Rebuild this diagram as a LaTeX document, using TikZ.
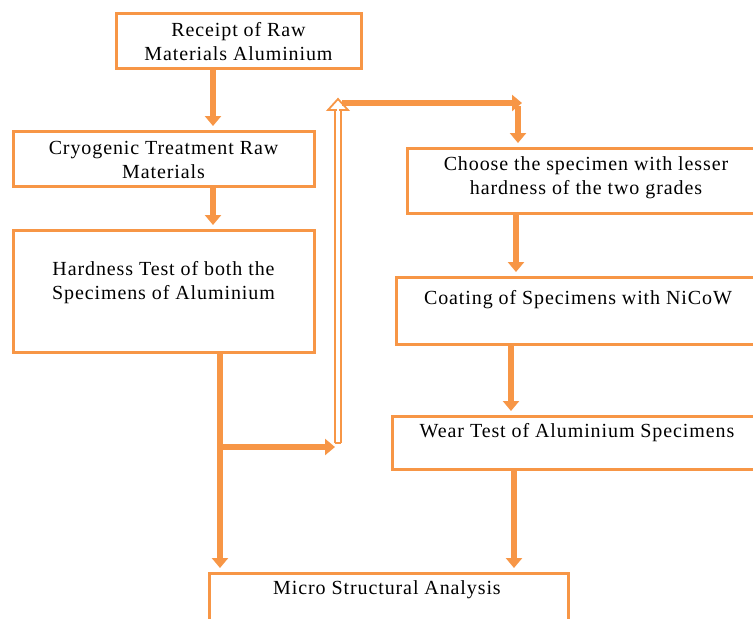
\documentclass[tikz,border=0pt]{standalone}
\usepackage{fontspec}
\setmainfont{Liberation Serif}[LetterSpace=4.5]
\usetikzlibrary{arrows.meta,calc}
\definecolor{org}{HTML}{F79646}
\begin{document}
\begin{tikzpicture}[x=1pt,y=-1pt,
  box/.style={draw=org,line width=3pt,fill=none},
  txt/.style={align=center,font=\fontsize{20}{24}\selectfont,inner sep=0pt},
  arr/.style={draw=org,line width=5.5pt,-{Triangle[width=16pt,length=10pt]},shorten >=5pt},
  dbl/.style={draw=org,line width=1.8pt}]
\useasboundingbox (0,0) rectangle (753,619);
\clip (0,0) rectangle (753,619);
% boxes
\draw[box] (116,13) rectangle (361,68);
\draw[box] (13,131) rectangle (314,186);
\draw[box] (13,230) rectangle (314,352);
\draw[box] (407,148) rectangle (765,213);
\draw[box] (396,277) rectangle (760,344);
\draw[box] (392,416) rectangle (762,469);
\draw[box] (209,573) rectangle (568,640);
% named anchors for the boxes
\coordinate (b1s) at (213,68);
\coordinate (b2n) at (213,131);
\coordinate (b2s) at (213,186);
\coordinate (b3n) at (213,230);
\coordinate (b3s) at (220,352);
\coordinate (b7nl) at (220,573);
\coordinate (br) at (220,447);
\coordinate (brt) at (335,447);
\coordinate (dbot) at (338,443);
\coordinate (dtop) at (338,99);
\coordinate (tl) at (342,103);
\coordinate (tr) at (522,103);
\coordinate (vt) at (518,106);
\coordinate (b4n) at (518,148);
\coordinate (b4s) at (516,213);
\coordinate (b5n) at (516,277);
\coordinate (b5s) at (511,344);
\coordinate (b6n) at (511,416);
\coordinate (b6s) at (514,469);
\coordinate (b7nr) at (514,573);
% texts
\node[txt] (t1) at (238.5,42) {Receipt of Raw\\Materials Aluminium};
\node[txt] (t2) at (163.5,160) {Cryogenic Treatment Raw\\Materials};
\node[txt] (t3) at (163.5,283) {Hardness Test of both the\\Specimens of Aluminium};
\node[txt] (t4) at (586,178) {Choose the specimen with lesser\\hardness of the two grades};
\node[txt] (t5) at (578,300) {Coating of Specimens with NiCoW};
\node[txt] (t6) at (577,433) {Wear Test of Aluminium Specimens};
\node[txt] (t7) at (387,590) {Micro Structural Analysis};
% connectors
\draw[arr] (b1s) -- (b2n);
\draw[arr] (b2s) -- (b3n);
\draw[arr] (b3s) -- (b7nl);
\draw[arr,shorten >=0pt] (br) -- (brt);
% double arrow upward
\draw[dbl] ($(dbot)+(-3,0)$) -- ($(dtop)+(-3,11)$);
\draw[dbl] ($(dbot)+(3,0)$) -- ($(dtop)+(3,11)$);
\draw[dbl] ($(dbot)+(-3,0)$) -- ($(dbot)+(3,0)$);
\draw[dbl,line join=miter,fill=white] ($(dtop)+(-10,11)$) -- (dtop) -- ($(dtop)+(10,11)$) -- cycle;
\draw[white,line width=1.2pt] ($(dtop)+(0,13)$) -- ($(dtop)+(0,5)$);
\draw[arr,shorten >=0pt] (tl) -- (tr);
\draw[arr] (vt) -- (b4n);
\draw[arr] (b4s) -- (b5n);
\draw[arr] (b5s) -- (b6n);
\draw[arr] (b6s) -- (b7nr);
\end{tikzpicture}
\end{document}
